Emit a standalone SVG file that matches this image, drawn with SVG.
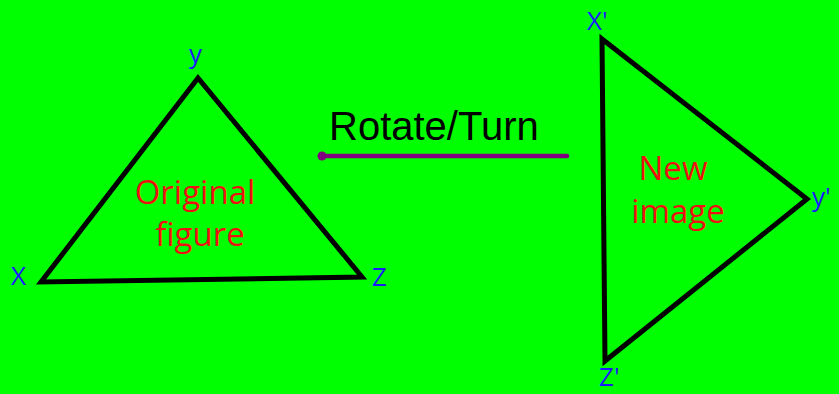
<svg xmlns="http://www.w3.org/2000/svg" width="839" height="394" viewBox="0 0 839 394">
<style>
.tri{fill:none;stroke:#000;stroke-width:5;stroke-linejoin:miter}
.lbl{font-family:"Comic Sans MS","Open Sans","Noto Sans",sans-serif;fill:#1a1aff;font-size:26px}
.cap{font-family:"Comic Sans MS","Open Sans","Noto Sans",sans-serif;fill:#ee1111;font-size:33px;text-anchor:middle}
.title{font-family:"Liberation Sans",Arial,sans-serif;fill:#000;font-size:40px}
</style>
<rect width="839" height="394" fill="#00ff00"/>
<g id="original">
<polygon class="tri" points="198,78 41,282 362,277"/>
<text class="cap" x="195" y="204">Original</text>
<text class="cap" x="200" y="246">figure</text>
<text class="lbl" x="11" y="285">X</text>
<text class="lbl" x="189" y="63">y</text>
<text class="lbl" x="372" y="286">Z</text>
</g>
<g id="image">
<polygon class="tri" points="602,39 807,199 605,361"/>
<text class="cap" x="673" y="180">New</text>
<text class="cap" x="678" y="223">image</text>
<text class="lbl" x="587" y="30">X'</text>
<text class="lbl" x="812" y="206">y'</text>
<text class="lbl" x="599" y="386">Z'</text>
</g>
<g id="connectors">
<text class="title" x="329" y="140">Rotate/Turn</text>
<line x1="322" y1="156" x2="567" y2="156" stroke="#800080" stroke-width="4.5" stroke-linecap="round"/>
<circle cx="322" cy="156" r="4.5" fill="#800080"/>
</g>
</svg>
